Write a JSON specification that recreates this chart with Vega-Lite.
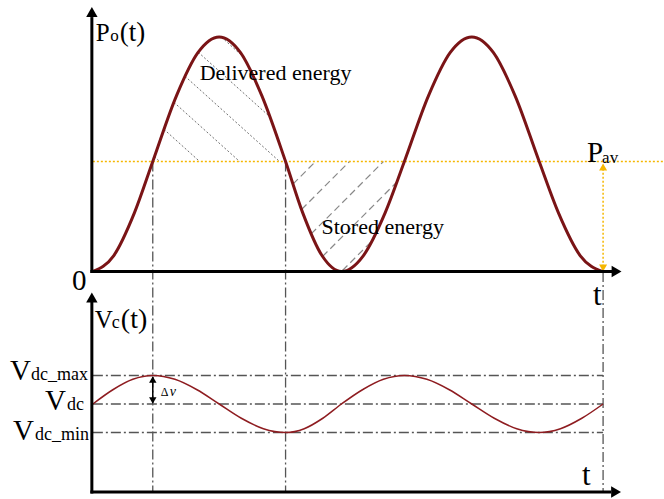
{
  "$schema": "https://vega.github.io/schema/vega-lite/v6.json",
  "width": 664,
  "height": 499,
  "autosize": {"type": "fit", "contains": "padding"},
  "padding": 0,
  "background": "white",
  "config": {"view": {"stroke": null}, "text": {"font": "Liberation Serif", "color": "black"}},
  "resolve": {"scale": {"y": "independent"}},
  "datasets": {
    "po": [
      {"t": 0, "p": 0}, {"t": 20.8, "p": 0.067}, {"t": 41.6, "p": 0.25}, {"t": 60, "p": 0.469},
      {"t": 83.8, "p": 0.75}, {"t": 105.2, "p": 0.933}, {"t": 126.5, "p": 1}, {"t": 147.9, "p": 0.933},
      {"t": 169.2, "p": 0.75}, {"t": 193, "p": 0.469}, {"t": 210.2, "p": 0.25}, {"t": 229.6, "p": 0.067},
      {"t": 249, "p": 0}, {"t": 270.8, "p": 0.067}, {"t": 292.7, "p": 0.25}, {"t": 312, "p": 0.469},
      {"t": 336.2, "p": 0.75}, {"t": 357.8, "p": 0.933}, {"t": 379.5, "p": 1}, {"t": 401.2, "p": 0.933},
      {"t": 422.8, "p": 0.75}, {"t": 447, "p": 0.469}, {"t": 466.3, "p": 0.25}, {"t": 488.2, "p": 0.067},
      {"t": 510, "p": 0}
    ],
    "vc": [
      {"t": 0, "v": 0}, {"t": 20, "v": 0.5}, {"t": 40, "v": 0.866}, {"t": 60, "v": 1},
      {"t": 82.2, "v": 0.866}, {"t": 104.3, "v": 0.5}, {"t": 126.5, "v": 0}, {"t": 148.7, "v": -0.5},
      {"t": 170.8, "v": -0.866}, {"t": 193, "v": -1}, {"t": 211.7, "v": -0.866}, {"t": 230.3, "v": -0.5},
      {"t": 249, "v": 0}, {"t": 270, "v": 0.5}, {"t": 291, "v": 0.866}, {"t": 312, "v": 1},
      {"t": 334.5, "v": 0.866}, {"t": 357, "v": 0.5}, {"t": 379.5, "v": 0}, {"t": 402, "v": -0.5},
      {"t": 424.5, "v": -0.866}, {"t": 447, "v": -1}, {"t": 468.3, "v": -0.866}, {"t": 489.7, "v": -0.5},
      {"t": 511, "v": 0}
    ],
    "axesP": [
      {"t": -1, "t2": -1, "p": -0.006, "p2": 1.085},
      {"t": -2.5, "t2": 520, "p": 0, "p2": 0}
    ],
    "axesV": [
      {"t": -1, "t2": -1, "v": -3.14, "v2": 3.58},
      {"t": -2.5, "t2": 519, "v": -3.0877, "v2": -3.0877}
    ],
    "pav": [{"t": 0, "t2": 571, "p": 0.469, "p2": 0.469}],
    "pavArrow": [{"t": 511, "t2": 511, "p": 0.455, "p2": 0.005}],
    "vlines": [
      {"t": 60, "t2": 60, "v": 8.5088, "v2": -3.0877},
      {"t": 193, "t2": 193, "v": 8.5088, "v2": -3.0877},
      {"t": 511, "t2": 511, "v": 4.6316, "v2": -3.0877}
    ],
    "hlines": [
      {"t": 0, "t2": 511, "v": 1, "v2": 1},
      {"t": 0, "t2": 511, "v": 0, "v2": 0},
      {"t": 0, "t2": 511, "v": -1, "v2": -1}
    ],
    "dv": [{"t": 60, "t2": 60, "v": 0.95, "v2": 0.05}],
    "hatchD": [
      {"t": 61.6, "p": 0.49, "t2": 67, "p2": 0.469},
      {"t": 71.2, "p": 0.6064, "t2": 107, "p2": 0.469},
      {"t": 81.2, "p": 0.7215, "t2": 147, "p2": 0.469},
      {"t": 92.2, "p": 0.8328, "t2": 187, "p2": 0.469},
      {"t": 105.5, "p": 0.9352, "t2": 177.3, "p2": 0.6597},
      {"t": 128.9, "p": 0.9991, "t2": 150.3, "p2": 0.9168}
    ],
    "hatchS": [
      {"t": 200.4, "p": 0.3727, "t2": 223, "p2": 0.469},
      {"t": 209, "p": 0.2644, "t2": 257, "p2": 0.469},
      {"t": 218.6, "p": 0.1603, "t2": 291, "p2": 0.469},
      {"t": 230, "p": 0.064, "t2": 304.5, "p2": 0.3817},
      {"t": 250, "p": 0.0043, "t2": 280, "p2": 0.1322}
    ]
  },
  "layer": [
    {
      "data": {"name": "hatchD"},
      "mark": {"type": "rule", "color": "#707070", "strokeWidth": 1, "strokeDash": [2, 2]},
      "encoding": {
        "x": {"field": "t", "type": "quantitative", "scale": {"domain": [-93, 571], "nice": false, "zero": false}, "axis": null},
        "x2": {"field": "t2"},
        "y": {"field": "p", "type": "quantitative", "scale": {"domain": [-0.97015, 1.15778], "nice": false, "zero": false}, "axis": null},
        "y2": {"field": "p2"}
      }
    },
    {
      "data": {"name": "hatchS"},
      "mark": {"type": "rule", "color": "#888888", "strokeWidth": 1.2, "strokeDash": [7, 4]},
      "encoding": {
        "x": {"field": "t", "type": "quantitative", "axis": null},
        "x2": {"field": "t2"},
        "y": {"field": "p", "type": "quantitative", "scale": {"domain": [-0.97015, 1.15778], "nice": false, "zero": false}, "axis": null},
        "y2": {"field": "p2"}
      }
    },
    {
      "data": {"name": "vlines"},
      "mark": {"type": "rule", "color": "#555555", "strokeWidth": 1.3, "strokeDash": [10, 3, 2, 3]},
      "encoding": {
        "x": {"field": "t", "type": "quantitative", "axis": null},
        "x2": {"field": "t2"},
        "y": {"field": "v", "type": "quantitative", "scale": {"domain": [-3.33333, 14.17544], "nice": false, "zero": false}, "axis": null},
        "y2": {"field": "v2"}
      }
    },
    {
      "data": {"name": "hlines"},
      "mark": {"type": "rule", "color": "#555555", "strokeWidth": 1.3, "strokeDash": [10, 3, 2, 3]},
      "encoding": {
        "x": {"field": "t", "type": "quantitative", "axis": null},
        "x2": {"field": "t2"},
        "y": {"field": "v", "type": "quantitative", "scale": {"domain": [-3.33333, 14.17544], "nice": false, "zero": false}, "axis": null},
        "y2": {"field": "v2"}
      }
    },
    {
      "data": {"name": "pav"},
      "mark": {"type": "rule", "color": "#f5b700", "strokeWidth": 1.5, "strokeDash": [2, 2]},
      "encoding": {
        "x": {"field": "t", "type": "quantitative", "axis": null},
        "x2": {"field": "t2"},
        "y": {"field": "p", "type": "quantitative", "scale": {"domain": [-0.97015, 1.15778], "nice": false, "zero": false}, "axis": null},
        "y2": {"field": "p2"}
      }
    },
    {
      "data": {"name": "pavArrow"},
      "mark": {"type": "rule", "color": "#f5b700", "strokeWidth": 1.5, "strokeDash": [2, 2]},
      "encoding": {
        "x": {"field": "t", "type": "quantitative", "axis": null},
        "x2": {"field": "t2"},
        "y": {"field": "p", "type": "quantitative", "scale": {"domain": [-0.97015, 1.15778], "nice": false, "zero": false}, "axis": null},
        "y2": {"field": "p2"}
      }
    },
    {
      "data": {"values": [{"t": 511, "p": 0.4456}]},
      "mark": {"type": "point", "shape": "triangle-up", "filled": true, "color": "#f5b700", "size": 64, "opacity": 1, "strokeWidth": 0},
      "encoding": {
        "x": {"field": "t", "type": "quantitative", "axis": null},
        "y": {"field": "p", "type": "quantitative", "scale": {"domain": [-0.97015, 1.15778], "nice": false, "zero": false}, "axis": null}
      }
    },
    {
      "data": {"values": [{"t": 511, "p": 0.0149}]},
      "mark": {"type": "point", "shape": "triangle-down", "filled": true, "color": "#f5b700", "size": 64, "opacity": 1, "strokeWidth": 0},
      "encoding": {
        "x": {"field": "t", "type": "quantitative", "axis": null},
        "y": {"field": "p", "type": "quantitative", "scale": {"domain": [-0.97015, 1.15778], "nice": false, "zero": false}, "axis": null}
      }
    },
    {
      "data": {"name": "po"},
      "mark": {"type": "line", "color": "#7a1416", "strokeWidth": 3, "interpolate": "monotone"},
      "encoding": {
        "x": {"field": "t", "type": "quantitative", "axis": null},
        "y": {"field": "p", "type": "quantitative", "scale": {"domain": [-0.97015, 1.15778], "nice": false, "zero": false}, "axis": null}
      }
    },
    {
      "data": {"name": "vc"},
      "mark": {"type": "line", "color": "#8e1c20", "strokeWidth": 1.5, "interpolate": "monotone"},
      "encoding": {
        "x": {"field": "t", "type": "quantitative", "axis": null},
        "y": {"field": "v", "type": "quantitative", "scale": {"domain": [-3.33333, 14.17544], "nice": false, "zero": false}, "axis": null}
      }
    },
    {
      "data": {"name": "dv"},
      "mark": {"type": "rule", "color": "black", "strokeWidth": 1.5},
      "encoding": {
        "x": {"field": "t", "type": "quantitative", "axis": null},
        "x2": {"field": "t2"},
        "y": {"field": "v", "type": "quantitative", "scale": {"domain": [-3.33333, 14.17544], "nice": false, "zero": false}, "axis": null},
        "y2": {"field": "v2"}
      }
    },
    {
      "data": {"values": [{"t": 60, "v": 0.8596}]},
      "mark": {"type": "point", "shape": "triangle-up", "filled": true, "color": "black", "size": 55, "opacity": 1, "strokeWidth": 0},
      "encoding": {
        "x": {"field": "t", "type": "quantitative", "axis": null},
        "y": {"field": "v", "type": "quantitative", "scale": {"domain": [-3.33333, 14.17544], "nice": false, "zero": false}, "axis": null}
      }
    },
    {
      "data": {"values": [{"t": 60, "v": 0.1228}]},
      "mark": {"type": "point", "shape": "triangle-down", "filled": true, "color": "black", "size": 55, "opacity": 1, "strokeWidth": 0},
      "encoding": {
        "x": {"field": "t", "type": "quantitative", "axis": null},
        "y": {"field": "v", "type": "quantitative", "scale": {"domain": [-3.33333, 14.17544], "nice": false, "zero": false}, "axis": null}
      }
    },
    {
      "data": {"name": "axesP"},
      "mark": {"type": "rule", "color": "black", "strokeWidth": 3},
      "encoding": {
        "x": {"field": "t", "type": "quantitative", "axis": null},
        "x2": {"field": "t2"},
        "y": {"field": "p", "type": "quantitative", "scale": {"domain": [-0.97015, 1.15778], "nice": false, "zero": false}, "axis": null},
        "y2": {"field": "p2"}
      }
    },
    {
      "data": {"name": "axesV"},
      "mark": {"type": "rule", "color": "black", "strokeWidth": 3},
      "encoding": {
        "x": {"field": "t", "type": "quantitative", "axis": null},
        "x2": {"field": "t2"},
        "y": {"field": "v", "type": "quantitative", "scale": {"domain": [-3.33333, 14.17544], "nice": false, "zero": false}, "axis": null},
        "y2": {"field": "v2"}
      }
    },
    {
      "data": {"values": [{"t": -1, "p": 1.1066}]},
      "mark": {"type": "point", "shape": "triangle-up", "filled": true, "color": "black", "size": 130, "opacity": 1, "strokeWidth": 0},
      "encoding": {
        "x": {"field": "t", "type": "quantitative", "axis": null},
        "y": {"field": "p", "type": "quantitative", "scale": {"domain": [-0.97015, 1.15778], "nice": false, "zero": false}, "axis": null}
      }
    },
    {
      "data": {"values": [{"t": 524.5, "p": 0}]},
      "mark": {"type": "point", "shape": "triangle-right", "filled": true, "color": "black", "size": 130, "opacity": 1, "strokeWidth": 0},
      "encoding": {
        "x": {"field": "t", "type": "quantitative", "axis": null},
        "y": {"field": "p", "type": "quantitative", "scale": {"domain": [-0.97015, 1.15778], "nice": false, "zero": false}, "axis": null}
      }
    },
    {
      "data": {"values": [{"t": -1, "v": 3.737}]},
      "mark": {"type": "point", "shape": "triangle-up", "filled": true, "color": "black", "size": 130, "opacity": 1, "strokeWidth": 0},
      "encoding": {
        "x": {"field": "t", "type": "quantitative", "axis": null},
        "y": {"field": "v", "type": "quantitative", "scale": {"domain": [-3.33333, 14.17544], "nice": false, "zero": false}, "axis": null}
      }
    },
    {
      "data": {"values": [{"t": 524, "v": -3.0877}]},
      "mark": {"type": "point", "shape": "triangle-right", "filled": true, "color": "black", "size": 130, "opacity": 1, "strokeWidth": 0},
      "encoding": {
        "x": {"field": "t", "type": "quantitative", "axis": null},
        "y": {"field": "v", "type": "quantitative", "scale": {"domain": [-3.33333, 14.17544], "nice": false, "zero": false}, "axis": null}
      }
    },
    {
      "data": {"values": [{"label": "Delivered energy", "t": 107, "p": 0.8166}, {"label": "Stored energy", "t": 229, "p": 0.1578}]},
      "mark": {"type": "text", "fontSize": 22, "align": "left", "baseline": "alphabetic"},
      "encoding": {
        "x": {"field": "t", "type": "quantitative", "axis": null},
        "y": {"field": "p", "type": "quantitative", "scale": {"domain": [-0.97015, 1.15778], "nice": false, "zero": false}, "axis": null},
        "text": {"field": "label"}
      }
    },
    {
      "data": {"values": [{"label": "P", "t": 3, "p": 0.9829}]},
      "mark": {"type": "text", "fontSize": 25, "align": "left", "baseline": "alphabetic"},
      "encoding": {
        "x": {"field": "t", "type": "quantitative", "axis": null},
        "y": {"field": "p", "type": "quantitative", "scale": {"domain": [-0.97015, 1.15778], "nice": false, "zero": false}, "axis": null},
        "text": {"field": "label"}
      }
    },
    {
      "data": {"values": [{"label": "(t)", "t": 27, "p": 0.9829}]},
      "mark": {"type": "text", "fontSize": 27, "align": "left", "baseline": "alphabetic"},
      "encoding": {
        "x": {"field": "t", "type": "quantitative", "axis": null},
        "y": {"field": "p", "type": "quantitative", "scale": {"domain": [-0.97015, 1.15778], "nice": false, "zero": false}, "axis": null},
        "text": {"field": "label"}
      }
    },
    {
      "data": {"values": [{"label": "o", "t": 17.5, "p": 0.9829}, {"label": "av", "t": 510, "p": 0.4606}]},
      "mark": {"type": "text", "fontSize": 17, "align": "left", "baseline": "alphabetic"},
      "encoding": {
        "x": {"field": "t", "type": "quantitative", "axis": null},
        "y": {"field": "p", "type": "quantitative", "scale": {"domain": [-0.97015, 1.15778], "nice": false, "zero": false}, "axis": null},
        "text": {"field": "label"}
      }
    },
    {
      "data": {"values": [{"label": "P", "t": 495, "p": 0.467}, {"label": "0", "t": -21, "p": -0.0789}]},
      "mark": {"type": "text", "fontSize": 29, "align": "left", "baseline": "alphabetic"},
      "encoding": {
        "x": {"field": "t", "type": "quantitative", "axis": null},
        "y": {"field": "p", "type": "quantitative", "scale": {"domain": [-0.97015, 1.15778], "nice": false, "zero": false}, "axis": null},
        "text": {"field": "label"}
      }
    },
    {
      "data": {"values": [{"label": "t", "t": 501, "p": -0.1429}]},
      "mark": {"type": "text", "fontSize": 31, "align": "left", "baseline": "alphabetic"},
      "encoding": {
        "x": {"field": "t", "type": "quantitative", "axis": null},
        "y": {"field": "p", "type": "quantitative", "scale": {"domain": [-0.97015, 1.15778], "nice": false, "zero": false}, "axis": null},
        "text": {"field": "label"}
      }
    },
    {
      "data": {"values": [{"label": "V", "t": 2, "v": 2.6667}]},
      "mark": {"type": "text", "fontSize": 25, "align": "left", "baseline": "alphabetic"},
      "encoding": {
        "x": {"field": "t", "type": "quantitative", "axis": null},
        "y": {"field": "v", "type": "quantitative", "scale": {"domain": [-3.33333, 14.17544], "nice": false, "zero": false}, "axis": null},
        "text": {"field": "label"}
      }
    },
    {
      "data": {"values": [{"label": "(t)", "t": 28, "v": 2.6667}]},
      "mark": {"type": "text", "fontSize": 28, "align": "left", "baseline": "alphabetic"},
      "encoding": {
        "x": {"field": "t", "type": "quantitative", "axis": null},
        "y": {"field": "v", "type": "quantitative", "scale": {"domain": [-3.33333, 14.17544], "nice": false, "zero": false}, "axis": null},
        "text": {"field": "label"}
      }
    },
    {
      "data": {"values": [
        {"label": "c", "t": 19, "v": 2.6667},
        {"label": "dc_max", "t": -62, "v": 0.8421},
        {"label": "dc", "t": -26, "v": -0.2105},
        {"label": "dc_min", "t": -58, "v": -1.2632}
      ]},
      "mark": {"type": "text", "fontSize": 18, "align": "left", "baseline": "alphabetic"},
      "encoding": {
        "x": {"field": "t", "type": "quantitative", "axis": null},
        "y": {"field": "v", "type": "quantitative", "scale": {"domain": [-3.33333, 14.17544], "nice": false, "zero": false}, "axis": null},
        "text": {"field": "label"}
      }
    },
    {
      "data": {"values": [
        {"label": "V", "t": -83, "v": 0.8421},
        {"label": "V", "t": -48, "v": -0.2105},
        {"label": "V", "t": -80, "v": -1.2632}
      ]},
      "mark": {"type": "text", "fontSize": 29, "align": "left", "baseline": "alphabetic"},
      "encoding": {
        "x": {"field": "t", "type": "quantitative", "axis": null},
        "y": {"field": "v", "type": "quantitative", "scale": {"domain": [-3.33333, 14.17544], "nice": false, "zero": false}, "axis": null},
        "text": {"field": "label"}
      }
    },
    {
      "data": {"values": [{"label": "t", "t": 490, "v": -2.8421}]},
      "mark": {"type": "text", "fontSize": 31, "align": "left", "baseline": "alphabetic"},
      "encoding": {
        "x": {"field": "t", "type": "quantitative", "axis": null},
        "y": {"field": "v", "type": "quantitative", "scale": {"domain": [-3.33333, 14.17544], "nice": false, "zero": false}, "axis": null},
        "text": {"field": "label"}
      }
    },
    {
      "data": {"values": [{"label": "Δ", "t": 68, "v": 0.2807}]},
      "mark": {"type": "text", "fontSize": 12, "align": "left", "baseline": "alphabetic"},
      "encoding": {
        "x": {"field": "t", "type": "quantitative", "axis": null},
        "y": {"field": "v", "type": "quantitative", "scale": {"domain": [-3.33333, 14.17544], "nice": false, "zero": false}, "axis": null},
        "text": {"field": "label"}
      }
    },
    {
      "data": {"values": [{"label": "v", "t": 77, "v": 0.2807}]},
      "mark": {"type": "text", "fontSize": 14, "fontStyle": "italic", "align": "left", "baseline": "alphabetic"},
      "encoding": {
        "x": {"field": "t", "type": "quantitative", "axis": null},
        "y": {"field": "v", "type": "quantitative", "scale": {"domain": [-3.33333, 14.17544], "nice": false, "zero": false}, "axis": null},
        "text": {"field": "label"}
      }
    }
  ]
}
